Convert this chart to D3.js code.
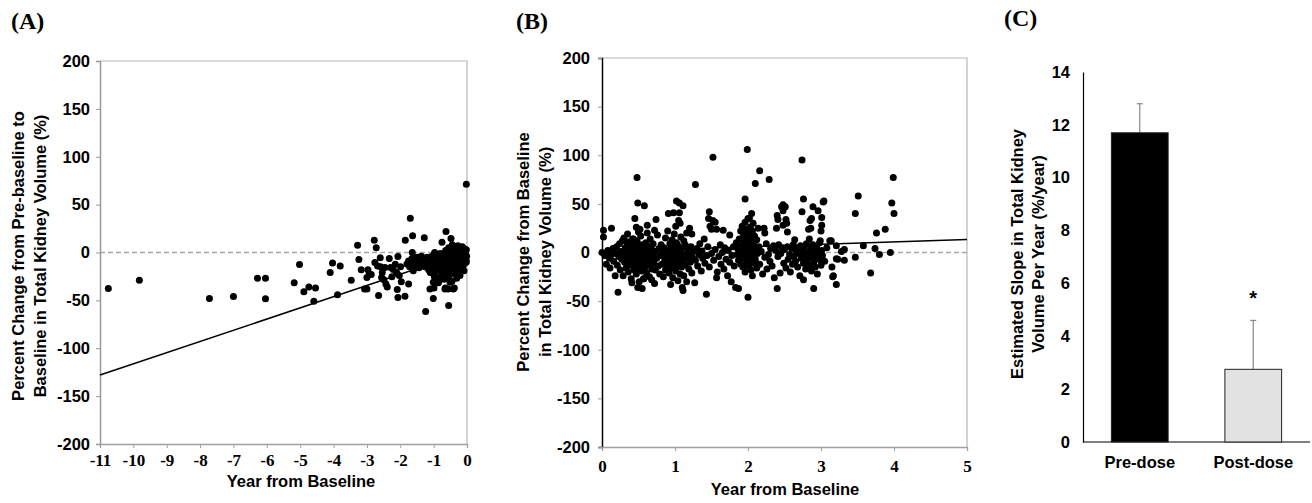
<!DOCTYPE html>
<meta charset="utf-8">
<style>
  body { margin: 0; background: #fff; }
  svg { display: block; }
</style>
<body>
<svg width="1312" height="503"></svg>
<script src="https://d3js.org/d3.v7.min.js"></script>
<script>
// (A) year from baseline vs % change pre-baseline -> baseline
const preBaseline = [
  [-10.75,-37.6],[-9.82,-28.9],[-7.72,-48],[-7.0,-46],[-6.28,-26.8],[-6.04,-26.8],[-6.04,-48.4],
  [-5.18,-31.7],[-5.02,-12.5],[-4.89,-41],[-4.74,-36],[-4.59,-51],[-4.54,-37],[-4.1,-21],[-4.03,-11],
  [-3.88,-44],[-3.8,-14],[-3.47,-29],[-3.28,7.7],[-3.24,-7.3],[-3.17,-18],[-3.07,-38],[-3.0,-38],
  [-3.0,-26],[-2.97,-18],[-2.93,-23],[-2.87,-23],[-2.78,12.9],[-2.72,4.9],[-2.76,-10.4],[-2.68,-14],
  [-2.65,-45],[-2.6,-5.6],[-2.59,-15],[-2.56,-26],[-2.54,-21],[-2.49,-28.5],[-2.46,-15.7],[-2.43,-33],
  [-2.39,-36],[-2.33,-6.3],[-2.29,-15.7],[-2.25,-25.4],[-2.21,-17.7],[-2.15,-12.2],[-2.11,-21],
  [-2.09,-38.6],[-2.07,-47],[-2.07,-4.2],[-2.03,-24],[-1.99,-15],[-1.97,-30.6],[-1.86,-45.6],
  [-1.85,12.9],[-1.75,-33],[-1.7,35.8],[-1.65,-6.3],[-1.63,17.4],[-1.64,0],[-1.61,-19],[-1.28,15.3],
  [-1.24,-61.6],[-1.01,-48],[-0.99,-37],[-0.86,-31.7],[-0.63,21.9],[-0.75,10.8],[-0.55,-55.3],
  [-0.48,14.6],[-0.65,-37],[-0.38,-37],[-0.02,71.3],
  [-1.01,-31],[-0.86,-31],[-1.11,-38],[-0.61,-25.8],[-0.51,-31],[-0.56,-38],[-0.66,-38],[-0.41,-38],
  [-1.8,-12],[-1.75,-9],[-1.72,-15],[-1.68,-11],
  [-1.58,-8],[-1.55,-13],[-1.5,-5],[-1.47,-11],[-1.44,-16],[-1.4,-9],[-1.37,-4],[-1.33,-12],[-1.3,-7],
  [-1.27,-15],[-1.24,-10],[-1.2,-5],[-1.18,-13],[-1.15,-18],[-1.12,-8],[-1.1,-21],[-1.08,-12],
  [-1.05,-4],[-1.03,-16],[-1.0,-9],[-0.98,-25],[-0.97,0],[-0.95,-13],[-0.93,-6],[-0.92,-19],[-0.9,-10],
  [-0.88,-3],[-0.87,-15],[-0.85,-26],[-0.83,-8],[-0.82,-12],[-0.8,-1],[-0.79,-18],[-0.77,-6],
  [-0.75,-22],[-0.74,-10],[-0.72,-14],[-0.7,-4],[-0.69,-28],[-0.67,-9],[-0.66,-17],[-0.64,2],
  [-0.63,-12],[-0.61,-7],[-0.6,-20],[-0.58,-3],[-0.57,-14],[-0.55,5],[-0.54,-9],[-0.53,-24],
  [-0.51,-1],[-0.5,-11],[-0.49,-16],[-0.47,3],[-0.46,-6],[-0.45,-30],[-0.44,8],[-0.43,-13],[-0.42,-4],
  [-0.41,-19],[-0.4,1],[-0.39,-8],[-0.38,-22],[-0.37,6],[-0.36,-11],[-0.35,-2],[-0.34,-16],[-0.33,4],
  [-0.32,-6],[-0.31,-27],[-0.3,-10],[-0.29,2],[-0.28,-14],[-0.27,7],[-0.26,-4],[-0.25,-20],[-0.24,-1],
  [-0.23,-9],[-0.22,5],[-0.21,-24],[-0.2,-12],[-0.19,3],[-0.18,-6],[-0.17,-17],[-0.16,0],[-0.15,-10],
  [-0.14,6],[-0.13,-3],[-0.12,-14],[-0.11,2],[-0.1,-7],[-0.09,-19],[-0.08,4],[-0.07,-2],[-0.06,-11],
  [-0.05,1],[-0.04,-5],[-0.03,-8],[-0.02,3],[-0.01,-4],[-0.02,-10],[-0.05,-6]
];
const preFitLine = [[-11, -128], [0, 0.7]];

// (B) year from baseline vs % change from baseline
const postBaseline = [
  [0,0],[0.02,23],[0.02,16],[0.13,25],[0.04,-3],[0.06,-12],[0.08,2],[0.1,-6],[0.11,-16],[0.13,-2],
  [0.15,4],[0.16,-9],[0.18,-24],[0.19,-1],[0.2,6],[0.21,-13],[0.22,-41],[0.23,-4],[0.24,9],[0.25,-18],
  [0.26,1],[0.27,-7],[0.28,12],[0.29,-24],[0.3,-3],
  [0.31,-10],[0.32,5],[0.33,-16],[0.34,0],[0.35,-5],[0.35,8],[0.36,-20],[0.37,-2],[0.37,11],[0.38,-8],
  [0.39,3],[0.39,-13],[0.4,-1],[0.4,-27],[0.41,6],[0.42,-6],[0.42,14],[0.43,-11],[0.43,-3],[0.44,2],
  [0.44,-18],[0.45,9],[0.45,-7],[0.46,-1],[0.46,-14],[0.47,4],[0.47,-22],[0.48,-4],[0.48,12],[0.49,-9],
  [0.49,0],[0.5,-16],[0.5,6],[0.51,-2],[0.51,-30],[0.52,3],[0.52,-11],[0.53,-6],[0.53,17],[0.54,0],
  [0.54,-19],[0.55,8],[0.55,-4],[0.56,-13],[0.56,2],[0.57,-27],[0.57,-8],[0.58,5],[0.58,-1],[0.59,-15],
  [0.6,10],[0.6,-5],[0.61,-21],[0.61,1],[0.62,-9],[0.62,20],[0.63,-3],[0.64,6],[0.64,-12],[0.65,-25],
  [0.66,0],[0.66,14],[0.67,-7],[0.68,3],[0.68,-17],[0.69,-2],[0.7,9],[0.71,-11],[0.72,-32],[0.73,-18],
  [0.73,1],[0.74,34],[0.75,-6],[0.76,18],[0.77,-14],[0.78,4],[0.79,-22],[0.8,-3],
  [0.48,77],[0.49,51],[0.58,48],[0.45,35],[0.43,14],[0.49,-36],[0.57,-27],[0.47,26],[0.5,21],[0.52,24],
  [0.55,-37],[0.41,-31],[0.62,28],[0.68,-28],[0.72,23],[0.35,19],[0.3,15],
  [0.81,8],[0.82,-12],[0.83,-1],[0.84,-25],[0.85,5],[0.86,-8],[0.87,15],[0.87,-18],[0.88,-3],[0.89,2],
  [0.9,-14],[0.9,22],[0.91,-6],[0.91,40],[0.92,0],[0.92,-21],[0.93,9],[0.93,-10],[0.94,-2],[0.94,-33],
  [0.95,4],[0.95,-16],[0.96,-7],[0.96,13],[0.97,-1],[0.97,-26],[0.98,6],[0.98,41],[0.98,-12],[0.99,-4],
  [0.99,19],[1.0,-9],[1.0,2],[1.01,-19],[1.01,27],[1.02,-5],[1.02,53],[1.02,10],[1.03,-14],[1.03,0],
  [1.04,-29],[1.04,7],[1.05,-3],[1.05,33],[1.06,-11],[1.06,51],[1.06,41],[1.07,3],[1.07,-22],[1.07,30],
  [1.08,-7],[1.08,16],[1.09,-1],[1.09,-15],[1.1,5],[1.1,-36],[1.11,-39],[1.11,48],[1.11,-9],[1.12,12],
  [1.12,-24],[1.13,-4],[1.14,8],[1.14,-13],[1.15,-2],[1.16,-30],[1.16,20],[1.17,-6],[1.18,3],[1.19,-17],
  [1.2,25],[1.2,-1],[1.21,-10],[1.22,6],[1.23,19],[1.23,-21],[1.24,-5],[1.25,1],[1.27,-31],[1.28,70],
  [1.28,-8],[1.3,4],[1.31,-14],[1.33,-2],[1.34,9],[1.36,-19],[1.37,1],[1.38,-6],[1.4,14],[1.41,-11],
  [1.43,-43],[1.44,-3],[1.45,6],[1.46,35],[1.47,42],[1.47,-15],[1.48,27],[1.5,24],[1.5,-1],[1.52,98],
  [1.52,33],[1.53,-8],[1.55,31],[1.55,3],[1.57,24],[1.57,-26],[1.58,-20],[1.6,-4],[1.62,8],[1.63,-12],
  [1.65,0],[1.66,23],[1.67,-17],[1.68,5],[1.7,-7],[1.72,-24],[1.73,2],[1.75,18],[1.75,-10],[1.77,-30],
  [1.78,-3],[1.8,6],[1.81,-14],[1.83,-36],[1.84,10],[1.85,-2],[1.87,-37],
  [1.86,4],[1.87,-8],[1.88,14],[1.89,-1],[1.9,22],[1.9,-12],[1.91,7],[1.92,-4],[1.92,27],[1.93,0],
  [1.93,-15],[1.94,10],[1.94,18],[1.95,-6],[1.95,3],[1.96,31],[1.96,55],[1.96,-20],[1.97,6],[1.97,-2],
  [1.97,15],[1.98,24],[1.98,-10],[1.98,1],[1.99,106],[1.99,9],[1.99,-5],[2.0,35],[2.0,-46],[2.0,12],
  [2.0,2],[2.01,-14],[2.01,20],[2.01,-1],[2.02,7],[2.02,35],[2.02,-8],[2.03,16],[2.03,26],[2.03,0],
  [2.04,-18],[2.04,5],[2.05,40],[2.05,11],[2.05,-4],[2.06,22],[2.06,-24],[2.07,3],[2.07,30],[2.08,-11],
  [2.08,8],[2.09,-2],[2.09,17],[2.1,71],[2.1,-7],[2.11,4],[2.12,13],[2.12,-16],[2.13,-1],[2.14,25],
  [2.15,6],[2.16,84],[2.16,-12],
  [2.18,1],[2.2,-22],[2.22,25],[2.23,20],[2.23,-5],[2.25,9],[2.26,-17],[2.28,-2],[2.29,75],[2.3,-9],
  [2.31,4],[2.33,-14],[2.35,7],[2.36,-26],[2.38,2],[2.39,25],[2.4,-37],[2.4,38],[2.41,34],[2.41,-4],
  [2.42,8],[2.44,-21],[2.45,-1],[2.46,47],[2.47,5],[2.48,49],[2.48,43],[2.48,28],[2.49,-11],[2.5,3],
  [2.51,47],[2.52,34],[2.52,-16],[2.53,30],[2.54,21],[2.54,6],[2.55,-7],[2.57,-2],[2.58,-20],[2.6,4],
  [2.61,-12],[2.62,8],[2.63,-4],[2.64,13],[2.65,-9],[2.66,1],[2.68,-15],[2.69,5],
  [2.7,-1],[2.71,-24],[2.72,7],[2.73,-6],[2.74,95],[2.74,42],[2.75,2],[2.76,55],[2.76,-28],[2.76,-11],
  [2.77,4],[2.78,-3],[2.79,-17],[2.8,9],[2.81,-8],[2.82,0],[2.83,24],[2.84,14],[2.84,-13],[2.85,33],
  [2.85,-5],[2.86,25],[2.86,5],[2.87,35],[2.87,-19],[2.88,-2],[2.89,47],[2.89,8],[2.9,-37],[2.9,-10],
  [2.91,3],[2.92,-15],[2.93,-4],[2.94,6],[2.95,-22],[2.96,43],[2.96,0],[2.97,-7],[2.98,10],[2.99,12],
  [2.99,-6],[3.0,22],[3.0,-13],[3.01,36],[3.01,28],[3.01,2],[3.02,-3],[3.03,52],[3.04,53],[3.05,-9],
  [3.08,5],[3.12,12],[3.14,12],[3.15,-15],[3.16,-25],[3.17,-24],[3.21,-6.5],[3.21,-33],[3.21,7],
  [3.23,-7],[3.28,1],[3.32,3],[3.32,-8],[3.47,-5],[3.47,40],[3.51,58],[3.58,7],[3.68,-21],[3.74,4],
  [3.76,20],[3.8,-2],[3.88,24],[3.95,0],[3.97,51],[3.99,77],[4.0,40]
];
const postFitLine = [[0, 0.9], [5, 13.4]];

const pctTicks = [-200, -150, -100, -50, 0, 50, 100, 150, 200];
const yearTicksA = [-11, -10, -9, -8, -7, -6, -5, -4, -3, -2, -1, 0];
const yearTicksB = [0, 1, 2, 3, 4, 5];

// (C) estimated slope per year
const slopeGroups = ["Pre-dose", "Post-dose"];
const slopeMeans = [11.7, 2.75];
const slopeErrs = [1.1, 1.85];
const slopeTicks = [0, 2, 4, 6, 8, 10, 12, 14];

const svg = d3.select("svg");
const sansBold = 'bold 16.5px "Liberation Sans", Arial, sans-serif';
const serifBold = 'bold 17px "Liberation Serif", "Times New Roman", serif';
const plain = d => String(d); // hyphen minus, like the original

function title(g, x, y, rot, text) {
  g.append("text")
    .attr("transform", `translate(${x},${y})` + (rot ? " rotate(-90)" : ""))
    .attr("text-anchor", "middle")
    .style("font", sansBold).attr("fill", "#000")
    .text(text);
}

function scatterPanel(o) {
  const x = d3.scaleLinear().domain(o.xDomain).range([o.left, o.right]);
  const y = d3.scaleLinear().domain([-200, 200]).range([o.bottom, o.top]);
  const g = svg.append("g");

  // light frame on top and right
  g.append("path")
    .attr("d", `M${o.left},${o.top}H${o.right}V${o.bottom}`)
    .attr("fill", "none").attr("stroke", "#b8b8b8").attr("stroke-width", 1.2);

  g.append("line")
    .attr("x1", o.left).attr("x2", o.right)
    .attr("y1", y(0)).attr("y2", y(0))
    .attr("stroke", "#a6a6a6").attr("stroke-width", 1.3)
    .attr("stroke-dasharray", "5,3");

  const yAx = g.append("g")
    .attr("transform", `translate(${o.left},0)`)
    .call(d3.axisLeft(y).tickValues(pctTicks).tickFormat(plain).tickSize(4).tickPadding(o.yPad));
  yAx.select(".domain").attr("stroke", o.yAxisColor).attr("stroke-width", o.yAxisWidth);
  yAx.selectAll(".tick line").attr("stroke", "#999");
  yAx.selectAll(".tick text").style("font", sansBold).attr("fill", "#000");

  const xAx = g.append("g")
    .attr("transform", `translate(0,${o.bottom})`)
    .call(d3.axisBottom(x).tickValues(o.xTicks).tickFormat(plain).tickSize(4).tickPadding(o.xPad));
  xAx.select(".domain").attr("stroke", "#a0a0a0").attr("stroke-width", 1.3);
  xAx.selectAll(".tick line").attr("stroke", "#a0a0a0");
  xAx.selectAll(".tick text").style("font", serifBold).attr("fill", "#000");

  g.append("g").selectAll("circle")
    .data(o.points)
    .join("circle")
    .attr("cx", d => x(d[0]))
    .attr("cy", d => y(d[1]))
    .attr("r", 3.5)
    .attr("fill", "#000");

  g.append("path")
    .datum(o.fit)
    .attr("d", d3.line().x(d => x(d[0])).y(d => y(d[1])))
    .attr("fill", "none").attr("stroke", "#000").attr("stroke-width", 1.5);

  title(g, o.xTitleX, o.xTitleY, false, "Year from Baseline");
  o.yTitle.forEach((t, i) => title(g, o.yTitleX[i], o.yTitleY, true, t));

  svg.append("text")
    .attr("x", o.labelX).attr("y", 29)
    .style("font", 'bold 24px "Liberation Serif", "Times New Roman", serif')
    .text(o.label);
}

scatterPanel({
  label: "(A)", labelX: 11,
  left: 100, right: 467, top: 61, bottom: 444,
  xDomain: [-11, 0], xTicks: yearTicksA, xPad: 6, yPad: 6,
  yAxisColor: "#999", yAxisWidth: 1.5,
  points: preBaseline, fit: preFitLine,
  xTitleX: 301, xTitleY: 487,
  yTitle: ["Percent Change from Pre-baseline to", "Baseline in Total Kidney Volume (%)"],
  yTitleX: [24, 46], yTitleY: 256
});

scatterPanel({
  label: "(B)", labelX: 516,
  left: 602, right: 967, top: 58, bottom: 447,
  xDomain: [0, 5], xTicks: yearTicksB, xPad: 9, yPad: 8,
  yAxisColor: "#000", yAxisWidth: 1.5,
  points: postBaseline, fit: postFitLine,
  xTitleX: 785, xTitleY: 495,
  yTitle: ["Percent Change from Baseline", "in Total Kidney Volume (%)"],
  yTitleX: [529, 551], yTitleY: 252
});

// (C) bar chart
const cx = d3.scaleBand().domain(slopeGroups).range([1083, 1310]).paddingInner(0.5).paddingOuter(0.25);
const cy = d3.scaleLinear().domain([0, 14]).range([442, 72]);
const gc = svg.append("g");

const cyAx = gc.append("g")
  .attr("transform", "translate(1083,0)")
  .call(d3.axisLeft(cy).tickValues(slopeTicks).tickSize(0).tickPadding(13));
cyAx.select(".domain").attr("stroke", "#000").attr("stroke-width", 1.2);
cyAx.selectAll(".tick text").style("font", sansBold).attr("fill", "#000");

const cxAx = gc.append("g")
  .attr("transform", "translate(0,442)")
  .call(d3.axisBottom(cx).tickSize(0).tickPadding(14));
cxAx.select(".domain").attr("stroke", "#000").attr("stroke-width", 1.2)
  .attr("d", "M1083,0H1310");
cxAx.selectAll(".tick text").style("font", sansBold).attr("fill", "#000");

const bars = slopeGroups.map((g, i) => ({ g, m: slopeMeans[i], e: slopeErrs[i] }));
const mid = d => cx(d.g) + cx.bandwidth() / 2;

gc.append("g").selectAll("line")
  .data(bars)
  .join("line")
  .attr("x1", mid).attr("x2", mid)
  .attr("y1", d => cy(d.m))
  .attr("y2", d => cy(d.m + d.e))
  .attr("stroke", "#888").attr("stroke-width", 1.2);

gc.append("g").selectAll("line")
  .data(bars)
  .join("line")
  .attr("x1", d => mid(d) - 3)
  .attr("x2", d => mid(d) + 3)
  .attr("y1", d => cy(d.m + d.e))
  .attr("y2", d => cy(d.m + d.e))
  .attr("stroke", "#888").attr("stroke-width", 1.2);

gc.append("g").selectAll("rect")
  .data(bars)
  .join("rect")
  .attr("x", d => cx(d.g))
  .attr("y", d => cy(d.m))
  .attr("width", cx.bandwidth())
  .attr("height", d => cy(0) - cy(d.m))
  .attr("fill", (d, i) => i === 0 ? "#000" : "#e2e2e2")
  .attr("stroke", "#222").attr("stroke-width", 1);

gc.append("text")
  .attr("x", mid(bars[1]))
  .attr("y", 305)
  .attr("text-anchor", "middle")
  .style("font", 'bold 20px "Liberation Sans", Arial, sans-serif')
  .text("*");

title(gc, 1023, 254, true, "Estimated Slope in Total Kidney");
title(gc, 1044, 254, true, "Volume Per Year (%/year)");

svg.append("text")
  .attr("x", 1004).attr("y", 26)
  .style("font", 'bold 24px "Liberation Serif", "Times New Roman", serif')
  .text("(C)");
</script>
</body>
